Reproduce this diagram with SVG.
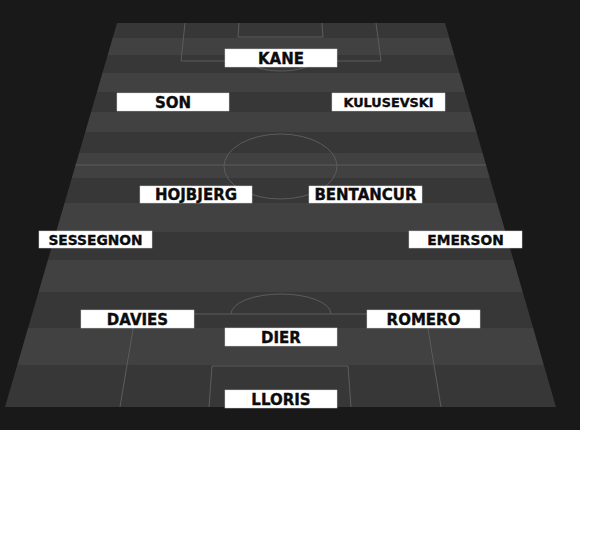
<svg xmlns="http://www.w3.org/2000/svg" width="600" height="536" viewBox="0 0 600 536">
<style>
.d{fill:#373737}.l{fill:#414141}
.mk{fill:none;stroke:#5c5c5c;stroke-width:1}
.box{fill:#ffffff;stroke:#d8d8d8;stroke-width:0.5}
.lbl{font-family:"DejaVu Sans",Verdana,sans-serif;font-weight:bold;font-size:15px;fill:#0c0c0c;stroke:#0c0c0c;stroke-width:0.35;text-anchor:middle}
</style>
<defs>
<clipPath id="pc"><polygon points="117,23 445,23 556,407 5,407"/></clipPath>
</defs>
<rect x="0" y="0" width="600" height="536" fill="#ffffff"/>
<rect x="0" y="0" width="580" height="430" fill="#191919"/>
<g id="pitch" clip-path="url(#pc)">
<rect class="d" x="0" y="23" width="580" height="15"/>
<rect class="l" x="0" y="38" width="580" height="17"/>
<rect class="d" x="0" y="55" width="580" height="18"/>
<rect class="l" x="0" y="73" width="580" height="19"/>
<rect class="d" x="0" y="92" width="580" height="20"/>
<rect class="l" x="0" y="112" width="580" height="20"/>
<rect class="d" x="0" y="132" width="580" height="21"/>
<rect class="l" x="0" y="153" width="580" height="25"/>
<rect class="d" x="0" y="178" width="580" height="25"/>
<rect class="l" x="0" y="203" width="580" height="29"/>
<rect class="d" x="0" y="232" width="580" height="28"/>
<rect class="l" x="0" y="260" width="580" height="32"/>
<rect class="d" x="0" y="292" width="580" height="36"/>
<rect class="l" x="0" y="328" width="580" height="37"/>
<rect class="d" x="0" y="365" width="580" height="42"/>
<line class="mk" x1="0" y1="165" x2="580" y2="165"/>
</g>
<g id="markings">
<polyline class="mk" points="185,23 181,61 381,61 376,23"/>
<polyline class="mk" points="239,23 238,37 323,37 322,23"/>
<path class="mk" d="M250,61 A31,10 0 0 0 312,61"/>
<ellipse class="mk" cx="280.5" cy="166.5" rx="56.5" ry="32.5"/>
<polyline class="mk" points="120,407 135.5,314 425.5,314 441,407"/>
<polyline class="mk" points="209,407 212,366 348,366 351,407"/>
<path class="mk" d="M231,314 A50,20 0 0 1 331,314"/>
</g>
<g id="connectors"></g>
<g id="kane"><rect class="box" x="225" y="49" width="112" height="18"/><text class="lbl" x="281" y="63.5">KANE</text></g>
<g id="son"><rect class="box" x="117" y="93" width="112" height="18"/><text class="lbl" x="173" y="107.5">SON</text></g>
<g id="kulusevski"><rect class="box" x="332" y="93" width="113" height="18"/><text class="lbl" x="388.5" y="107" style="font-size:12.8px">KULUSEVSKI</text></g>
<g id="hojbjerg"><rect class="box" x="140" y="186" width="112" height="17"/><text class="lbl" x="196" y="200">HOJBJERG</text></g>
<g id="bentancur"><rect class="box" x="309" y="186" width="113" height="17"/><text class="lbl" x="365.5" y="200">BENTANCUR</text></g>
<g id="sessegnon"><rect class="box" x="39" y="231" width="113" height="17"/><text class="lbl" x="95.5" y="244.5" style="font-size:13.8px">SESSEGNON</text></g>
<g id="emerson"><rect class="box" x="409" y="231" width="113" height="17"/><text class="lbl" x="465.5" y="244.5" style="font-size:13.8px">EMERSON</text></g>
<g id="davies"><rect class="box" x="81" y="310" width="113" height="18"/><text class="lbl" x="137.5" y="324.5">DAVIES</text></g>
<g id="romero"><rect class="box" x="367" y="310" width="113" height="18"/><text class="lbl" x="423.5" y="324.5">ROMERO</text></g>
<g id="dier"><rect class="box" x="225" y="328" width="112" height="18"/><text class="lbl" x="281" y="342.5">DIER</text></g>
<g id="lloris"><rect class="box" x="225" y="390" width="112" height="18"/><text class="lbl" x="281" y="404.5">LLORIS</text></g>
</svg>
